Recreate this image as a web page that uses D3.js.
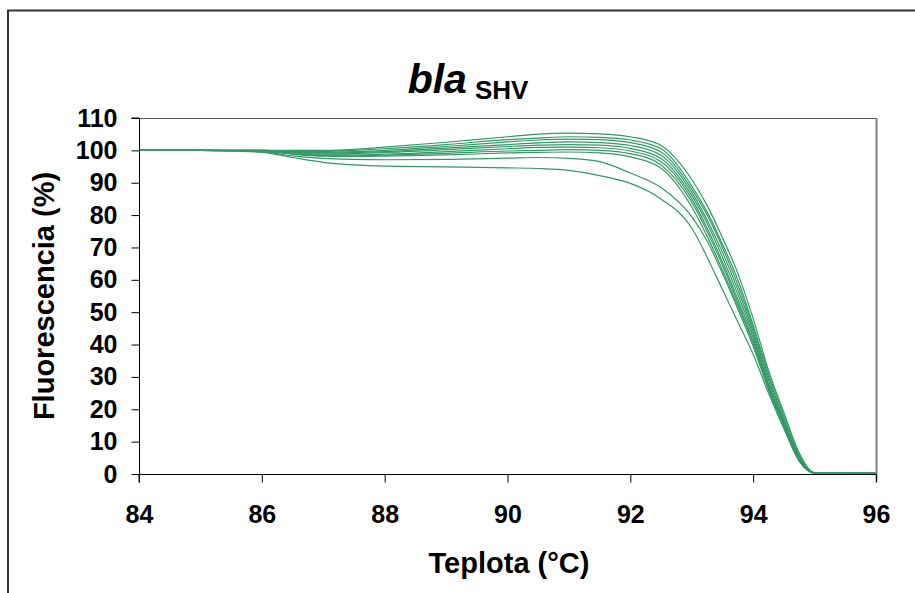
<!DOCTYPE html>
<html>
<head>
<meta charset="utf-8">
<script src="https://cdn.jsdelivr.net/npm/d3@7"></script>
<style>
  body { margin: 0; background: #fff; }
  text { font-family: Arial, "Liberation Sans", sans-serif; font-weight: bold; fill: #000; }
</style>
</head>
<body>
<script>
// temperature grid (°C)
var temps = [84, 85, 86, 86.5, 87, 87.5, 88, 89, 90, 90.5, 91, 91.5, 92, 92.5, 93, 93.25, 93.5, 93.75, 94, 94.25, 94.5, 94.75, 95, 95.5, 96]

// fluorescence (%) per sample
var curve01 = [100, 100, 100, 100, 100, 100.3, 101, 102.5, 104.2, 105, 105.3, 105.1, 104.2, 101.5, 91, 83, 73, 62, 48, 32, 19, 6.5, 0.4, 0.4, 0.3]
var curve02 = [100, 100, 100, 99.8, 99.7, 100, 100.5, 101.8, 103.3, 103.8, 104.2, 104, 103.2, 100.5, 89, 81, 71, 60, 46, 31, 18, 6, 0.4, 0.3, 0.3]
var curve03 = [100, 100, 100, 99.6, 99.4, 99.6, 100, 101.2, 102.6, 103.2, 103.5, 103.3, 102.4, 99.5, 88, 80, 70, 58.5, 45, 30, 17, 5.5, 0.3, 0.3, 0.3]
var curve04 = [100, 100, 100, 99.5, 99.2, 99.3, 99.6, 100.7, 101.8, 102.3, 102.6, 102.4, 101.5, 98.5, 87, 78.5, 68.5, 57, 44, 29, 16.5, 5, 0.3, 0.3, 0.3]
var curve05 = [100, 100, 99.9, 99.3, 98.9, 99, 99.3, 100.2, 101.2, 101.6, 101.8, 101.6, 100.6, 97.5, 86, 77.5, 67, 55.5, 43, 28, 16, 5, 0.3, 0.3, 0.3]
var curve06 = [100, 100, 99.8, 99.2, 98.6, 98.6, 98.8, 99.6, 100.5, 100.9, 101, 100.8, 99.8, 96.5, 85, 76, 65.5, 54, 42, 27.5, 15.5, 4.5, 0.3, 0.3, 0.3]
var curve07 = [100, 100, 99.8, 99, 98.4, 98.3, 98.5, 99.1, 99.8, 100, 100.2, 100, 99, 95.5, 84, 75, 64.5, 53, 41, 27, 15, 4.5, 0.3, 0.3, 0.3]
var curve08 = [100, 100, 99.7, 98.8, 98.2, 98.1, 98.2, 98.6, 99.2, 99.4, 99.5, 99.2, 98, 94.5, 82.5, 73.5, 63, 52, 40.5, 26.5, 15, 4.5, 0.3, 0.3, 0.3]
var curve09 = [100, 100, 99.6, 98.3, 97.5, 97.2, 97.1, 97.2, 97.6, 97.8, 97.5, 96.5, 93, 88.5, 79.5, 72, 62, 51, 39.5, 26, 14.5, 4, 0.3, 0.3, 0.3]
var curve10 = [100, 100, 99.4, 97.8, 96.3, 95.5, 95.1, 94.9, 94.6, 94.4, 93.8, 92.2, 89.8, 85, 76, 67, 57, 47, 37, 25, 14, 4, 0.3, 0.3, 0.3]

var xTicks = [84, 86, 88, 90, 92, 94, 96]
var yTicks = [0, 10, 20, 30, 40, 50, 60, 70, 80, 90, 100, 110]

var all_curves = [curve01, curve02, curve03, curve04, curve05, curve06, curve07, curve08, curve09, curve10]

function plot_it() {
    var svgWidth = 915, svgHeight = 593
    var left = 139, top = 118, right = 876, bottom = 474
    var svg = d3.select('body').append('svg').attr('width', svgWidth).attr('height', svgHeight).attr('id', 'svg0')

    // outer chart frame (only left/top edges show in the window)
    svg.append('rect').attr('x', 8).attr('y', 10.5).attr('width', 1000).attr('height', 1000)
        .attr('fill', '#fff').attr('stroke', '#333').attr('stroke-width', 2)

    var x = d3.scaleLinear().domain([84, 96]).range([left, right])
    var y = d3.scaleLinear().domain([0, 110]).range([bottom, top])

    // plot area border: top dark, right grey
    svg.append('line').attr('x1', left).attr('x2', right).attr('y1', top + 0.5).attr('y2', top + 0.5)
        .attr('stroke', '#555').attr('stroke-width', 1)
    svg.append('line').attr('x1', right + 0.5).attr('x2', right + 0.5).attr('y1', top).attr('y2', bottom + 8)
        .attr('stroke', '#808080').attr('stroke-width', 2)

    var line = d3.line()
        .x((v, i) => x(temps[i]))
        .y(v => y(v))
        .curve(d3.curveMonotoneX)

    svg.append('g').attr('id', 'curves').selectAll('path').data(all_curves).enter()
        .append('path')
        .attr('fill', 'none')
        .attr('stroke', '#339966')
        .attr('stroke-width', 1.2)
        .attr('d', d => line(d))

    // axes
    var xAxis = svg.append('g').attr('transform', 'translate(0,' + (bottom + 0.5) + ')')
        .call(d3.axisBottom(x).tickValues(xTicks).tickSize(8).tickPadding(23).tickFormat(d3.format('d')))
    var yAxis = svg.append('g').attr('transform', 'translate(' + (left + 0.5) + ',0)')
        .call(d3.axisLeft(y).tickValues(yTicks).tickSize(8).tickPadding(14).tickFormat(d3.format('d')))
    svg.selectAll('.domain').attr('stroke', '#000')
    svg.selectAll('.tick line').attr('stroke', '#000')
    svg.selectAll('.tick text').style('font-size', '25px').style('font-family', 'Arial, "Liberation Sans", sans-serif')
        .style('font-weight', 'bold').attr('fill', '#000')
    xAxis.select('.domain').attr('d', 'M' + left + ',8V0H' + right)
    yAxis.select('.domain').attr('d', 'M-8,' + top + 'H0V' + bottom)

    // titles
    var title = svg.append('text').attr('x', 468).attr('y', 93).attr('text-anchor', 'middle')
    title.append('tspan').text('bla').style('font-size', '41px').style('font-style', 'italic')
    title.append('tspan').text('SHV').attr('dx', 8).attr('dy', 6).style('font-size', '26px')

    svg.append('text').attr('x', 509).attr('y', 573).attr('text-anchor', 'middle')
        .style('font-size', '29px').text('Teplota (°C)')

    svg.append('text').attr('transform', 'translate(54,296) rotate(-90)').attr('text-anchor', 'middle')
        .style('font-size', '29px').text('Fluorescencia (%)')
}

plot_it()
</script>
</body>
</html>
